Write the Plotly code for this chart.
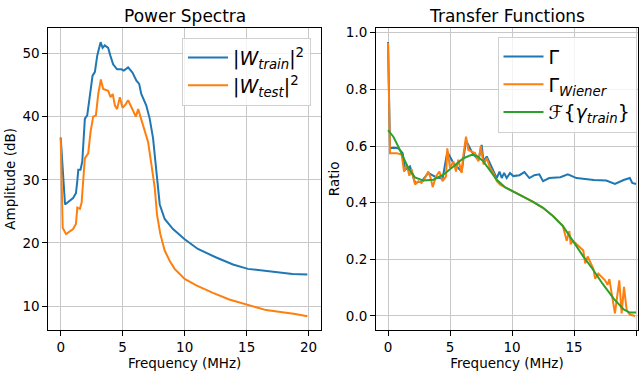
import plotly.graph_objects as go

# ---- Left panel: power spectra (dB) ----
f_train = [0, 0.35, 1.0, 1.23, 1.34, 1.42, 1.6, 1.74, 1.95, 2.14, 2.36, 2.57, 2.76, 2.95, 3.22, 3.38,
           3.56, 3.83, 4.02, 4.23, 4.55, 4.9, 5.09, 5.44, 5.79, 6.11, 6.33, 6.5, 6.9, 7.18, 7.45, 7.72,
           7.99, 8.39, 9.06, 10.0, 11.07, 12.55, 13.9, 15.1, 17.1, 18.7, 19.9]
w_train = [36.7, 26.1, 27.1, 27.9, 29.8, 31.6, 31.6, 32.9, 39.7, 40.2, 43.4, 46.5, 47.1, 49.7, 51.8, 50.9,
           51.3, 50.9, 49.6, 48.3, 47.5, 47.5, 47.3, 47.8, 47.0, 45.7, 45.2, 43.6, 41.8, 39.7, 36.6, 31.3,
           26.1, 23.8, 22.2, 20.6, 19.05, 17.7, 16.6, 15.9, 15.4, 15.1, 15.0]

f_test = [0, 0.16, 0.43, 1.0, 1.23, 1.34, 1.55, 1.69, 1.82, 1.95, 2.22, 2.41, 2.62, 2.84, 3.03, 3.24,
          3.43, 3.83, 4.02, 4.2, 4.37, 4.55, 4.77, 4.99, 5.25, 5.44, 5.71, 6.06, 6.25, 6.52, 6.86, 7.05,
          7.32, 7.59, 7.77, 8.04, 8.39, 8.79, 9.19, 10.0, 10.94, 12.28, 13.6, 15.1, 16.57, 18.18, 18.8, 19.9]
w_test = [36.6, 22.4, 21.4, 22.2, 23.0, 25.6, 25.4, 26.4, 30.0, 33.4, 34.2, 37.6, 40.0, 40.2, 43.6, 45.9,
          44.4, 44.1, 43.1, 43.6, 41.8, 41.2, 43.1, 41.4, 42.0, 42.6, 41.5, 40.0, 41.2, 39.4, 37.1, 36.0,
          32.4, 28.7, 24.5, 21.4, 18.8, 17.2, 15.9, 14.3, 13.3, 12.1, 11.05, 10.16, 9.37, 8.95, 8.8, 8.4]

# ---- Right panel: transfer functions ----
f_gamma = [0, 0.16, 0.43, 0.83, 1.18, 1.37, 1.77, 2.18, 2.7, 3.25, 3.87, 4.4, 4.78, 5.27, 5.94, 6.29,
           6.75, 7.29, 7.55, 7.7, 7.96, 8.2, 8.5, 8.77, 8.99, 9.17, 9.36, 9.57, 9.84, 10.1, 10.6, 11.0,
           11.4, 11.8, 12.2, 12.5, 13.0, 13.9, 14.5, 15.2, 16.6, 17.6, 18.3, 19.0, 19.5, 19.7, 20.0]
gamma = [0.967, 0.592, 0.594, 0.592, 0.575, 0.516, 0.528, 0.47, 0.475, 0.505, 0.49, 0.485, 0.58, 0.54,
         0.51, 0.62, 0.58, 0.55, 0.604, 0.546, 0.563, 0.54, 0.516, 0.487, 0.51, 0.487, 0.505, 0.487,
         0.505, 0.494, 0.497, 0.508, 0.487, 0.497, 0.5, 0.476, 0.487, 0.49, 0.5, 0.487, 0.48, 0.478,
         0.466, 0.48, 0.487, 0.47, 0.466]

f_wiener = [0, 0.16, 0.7, 1.1, 1.29, 1.5, 1.72, 1.9, 2.18, 2.45, 2.7, 2.98, 3.25, 3.44, 3.6, 3.87, 4.14,
            4.4, 4.68, 4.78, 5.0, 5.27, 5.48, 5.67, 5.94, 6.08, 6.29, 6.48, 6.75, 7.02, 7.29, 7.48, 7.7,
            7.96, 8.23, 8.5, 8.77, 9.04, 9.3, 10.1, 10.9, 11.7, 12.5, 13.3, 14.1, 14.41, 14.62, 14.73,
            14.9, 15.75, 15.9, 16.1, 16.56, 16.7, 16.96, 17.5, 17.7, 17.85, 18.04, 18.3, 18.65, 18.84,
            19.03, 19.25, 19.5, 19.92]
wiener = [0.965, 0.575, 0.575, 0.57, 0.51, 0.535, 0.495, 0.518, 0.464, 0.476, 0.47, 0.487, 0.51, 0.487,
          0.455, 0.493, 0.51, 0.476, 0.493, 0.592, 0.522, 0.546, 0.51, 0.552, 0.505, 0.57, 0.633, 0.586,
          0.58, 0.575, 0.546, 0.6, 0.535, 0.558, 0.522, 0.505, 0.476, 0.464, 0.458, 0.44, 0.423, 0.403,
          0.382, 0.353, 0.318, 0.266, 0.30, 0.253, 0.266, 0.231, 0.186, 0.21, 0.167, 0.132, 0.15, 0.126,
          0.11, 0.13, 0.079, 0.009, 0.126, 0.009, 0.103, 0.02, 0.005, 0.0]

f_fourier = [0, 0.43, 0.83, 1.24, 1.64, 2.18, 2.85, 3.66, 4.46, 5.27, 6.08, 6.75, 7.15, 7.69, 8.23, 8.77,
             9.46, 10.1, 10.9, 11.7, 12.5, 13.3, 14.1, 14.9, 15.7, 16.5, 17.3, 18.2, 19.0, 19.5, 20.0]
fourier = [0.656, 0.633, 0.598, 0.557, 0.522, 0.489, 0.478, 0.481, 0.499, 0.528, 0.557, 0.569, 0.565,
           0.546, 0.513, 0.481, 0.454, 0.44, 0.423, 0.403, 0.382, 0.353, 0.318, 0.265, 0.213, 0.166,
           0.114, 0.061, 0.023, 0.012, 0.012]

x_ticks = [0, 5, 10, 15, 20]
amp_ticks = [10, 20, 30, 40, 50]
ratio_ticks = [0.0, 0.2, 0.4, 0.6, 0.8, 1.0]
ratio_labels = ["0.0", "0.2", "0.4", "0.6", "0.8", "1.0"]

BLUE, ORANGE, GREEN = "#1f77b4", "#ff7f0e", "#2ca02c"
FONT = "DejaVu Sans"
W, H = 640, 375

fig = go.Figure()
fig.add_trace(go.Scatter(x=f_train, y=w_train, mode="lines", line=dict(color=BLUE, width=2),
                         name="|<i>W</i><sub><i>train</i></sub>|<sup>2</sup>", legend="legend",
                         xaxis="x", yaxis="y"))
fig.add_trace(go.Scatter(x=f_test, y=w_test, mode="lines", line=dict(color=ORANGE, width=2),
                         name="|<i>W</i><sub><i>test</i></sub>|<sup>2</sup>", legend="legend",
                         xaxis="x", yaxis="y"))
fig.add_trace(go.Scatter(x=f_gamma, y=gamma, mode="lines", line=dict(color=BLUE, width=2),
                         name="Γ", legend="legend2", xaxis="x2", yaxis="y2"))
fig.add_trace(go.Scatter(x=f_wiener, y=wiener, mode="lines", line=dict(color=ORANGE, width=2),
                         name="Γ<sub><i>Wiener</i></sub>", legend="legend2", xaxis="x2", yaxis="y2"))
fig.add_trace(go.Scatter(x=f_fourier, y=fourier, mode="lines", line=dict(color=GREEN, width=2),
                         name="ℱ{<i>γ</i><sub><i>train</i></sub>}", legend="legend2", xaxis="x2", yaxis="y2"))

ax_common = dict(showline=True, mirror=True, linecolor="black", linewidth=1,
                 ticks="outside", ticklen=5, tickwidth=1, tickcolor="black",
                 showgrid=True, gridcolor="#c8c8c8", gridwidth=1, zeroline=False,
                 tickfont=dict(family=FONT, size=13.5, color="black"))
ydom = [1 - 329.5 / H, 1 - 25 / H]

legend_common = dict(font=dict(family=FONT, size=19, color="black"),
                     bgcolor="rgba(255,255,255,0.8)", bordercolor="#d0d0d0", borderwidth=1,
                     xanchor="right", yanchor="top", itemwidth=40)

fig.update_layout(
    width=W, height=H, margin=dict(l=0, r=0, t=0, b=0),
    paper_bgcolor="white", plot_bgcolor="white",
    font=dict(family=FONT, color="black"),
    xaxis=dict(domain=[48.3 / W, 321 / W], range=[-1, 21], tickvals=x_ticks,
               title=dict(text="Frequency (MHz)", font=dict(family=FONT, size=13.5), standoff=3),
               anchor="y", **ax_common),
    yaxis=dict(domain=ydom, range=[6.24, 54.08], tickvals=amp_ticks,
               title=dict(text="Amplitude (dB)", font=dict(family=FONT, size=13.5), standoff=3),
               anchor="x", **ax_common),
    xaxis2=dict(domain=[376 / W, 638 / W], range=[-0.97, 20.16], tickvals=x_ticks,
                title=dict(text="Frequency (MHz)", font=dict(family=FONT, size=13.5), standoff=3),
                anchor="y2", **ax_common),
    yaxis2=dict(domain=ydom, range=[-0.049, 1.0175], tickvals=ratio_ticks, ticktext=ratio_labels,
                title=dict(text="Ratio", font=dict(family=FONT, size=13.5), standoff=3),
                anchor="x2", **ax_common),
    legend=dict(x=311 / W, y=1 - 35 / H, **legend_common),
    legend2=dict(x=636.5 / W, y=1 - 34 / H, **legend_common),
    annotations=[
        dict(text="Power Spectra", x=184.6 / W, y=1 - 13 / H, xref="paper", yref="paper",
             xanchor="center", yanchor="middle", showarrow=False,
             font=dict(family=FONT, size=17, color="black")),
        dict(text="Transfer Functions", x=507 / W, y=1 - 13 / H, xref="paper", yref="paper",
             xanchor="center", yanchor="middle", showarrow=False,
             font=dict(family=FONT, size=17, color="black")),
    ],
)

fig.write_html("out.html", config={"displayModeBar": False},
               post_script="document.body.style.margin='0';document.body.style.overflow='hidden';")
